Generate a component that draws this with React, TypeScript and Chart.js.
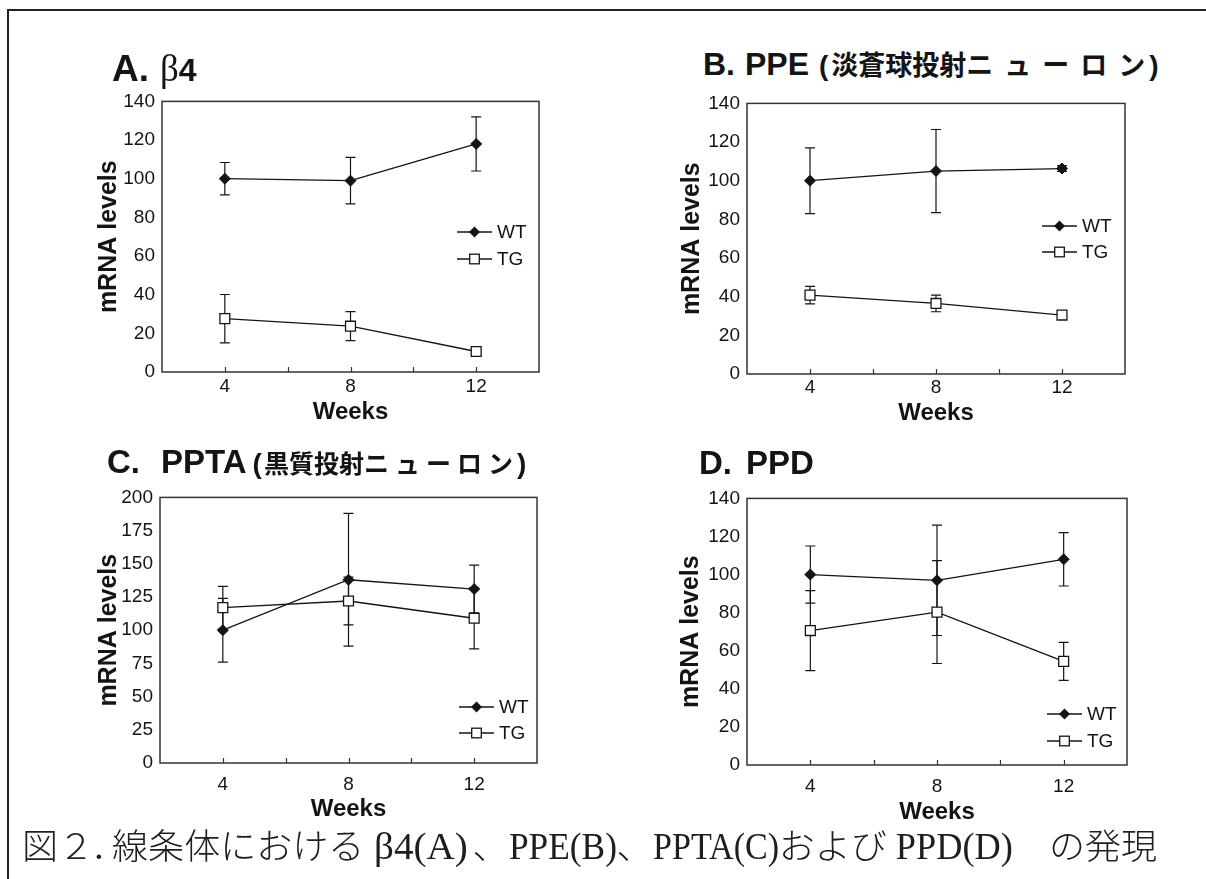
import React, { useEffect, useLayoutEffect, useRef } from 'react';
import { Chart, registerables } from 'chart.js';

Chart.register(...registerables);

// ---------------- data ----------------
const weeks = [4, 8, 12];
const xLabelWeeks = [4, 8, 12];
const xMinorTicks = [4, 6, 8, 10, 12];
const seriesNames = ['WT', 'TG'];

const aWT = [100, 99, 118];
const aWTerr = [8.4, 12, 14];
const aTG = [27.6, 23.7, 10.6];
const aTGerr = [12.5, 7.5, 2];

const bWT = [100, 105, 106.3];
const bWTerr = [17, 21.5, 1.5];
const bTG = [40.8, 36.5, 30.5];
const bTGerr = [4.5, 4.3, 0];

const cWT = [100, 138, 131];
const cWTerr = [24, 50, 18];
const cTG = [117, 122, 109];
const cTGerr = [16, 18, 23];

const dWT = [100, 97, 108];
const dWTerr = [15, 29, 14];
const dTG = [70.6, 80.3, 54.4];
const dTGerr = [21, 27, 10];

const yMaxAB = 140;
const yStepAB = 20;
const yMaxC = 200;
const yStepC = 25;

// ---------------- style ----------------
const INK = '#141414';
const FRAME = '#333333';
const SANS = '"Liberation Sans", Arial, Helvetica, sans-serif';
const SERIF = '"Liberation Serif", "DejaVu Serif", serif';
const CJK = '"Noto Sans CJK JP", "Noto Sans CJK SC", sans-serif';

type PanelCfg = {
  L: number; T: number; R: number; B: number;
  wt: number[]; wtErr: number[]; tg: number[]; tgErr: number[];
  yMax: number; yStep: number;
  xLabelPad: number; weeksPad: number; yTitlePad: number;
  legX: number; legY: number[];
};

const panels: PanelCfg[] = [
  { L: 162, T: 95, R: 539, B: 372, wt: aWT, wtErr: aWTerr, tg: aTG, tgErr: aTGerr,
    yMax: yMaxAB, yStep: yStepAB, xLabelPad: 3.6, weeksPad: 15.6, yTitlePad: 12,
    legX: 457, legY: [232, 259] },
  { L: 747, T: 97, R: 1125, B: 374, wt: bWT, wtErr: bWTerr, tg: bTG, tgErr: bTGerr,
    yMax: yMaxAB, yStep: yStepAB, xLabelPad: 2.6, weeksPad: 16.6, yTitlePad: 10,
    legX: 1042, legY: [226, 252] },
  { L: 160, T: 491, R: 537, B: 763, wt: cWT, wtErr: cWTerr, tg: cTG, tgErr: cTGerr,
    yMax: yMaxC, yStep: yStepC, xLabelPad: 10.6, weeksPad: 9.6, yTitlePad: 14,
    legX: 459, legY: [707, 733] },
  { L: 747, T: 492, R: 1127, B: 765, wt: dWT, wtErr: dWTerr, tg: dTG, tgErr: dTGerr,
    yMax: yMaxAB, yStep: yStepAB, xLabelPad: 10.6, weeksPad: 8.6, yTitlePad: 9,
    legX: 1047, legY: [714, 741] },
];

const PAD_L = 80;
const PAD_T = 12;
const PAD_R = 20;
const X_BOX = 70;

function decor(p: PanelCfg, offX: number, offY: number) {
  return {
    id: 'decor',
    beforeDatasetsDraw(chart: any) {
      const { ctx, chartArea: a, scales } = chart;
      const x = scales.x, y = scales.y;
      ctx.save();
      ctx.strokeStyle = FRAME;
      ctx.lineWidth = 1.5;
      ctx.strokeRect(a.left, a.top, a.right - a.left, a.bottom - a.top);
      ctx.lineWidth = 1.2;
      ctx.beginPath();
      xMinorTicks.forEach((v) => {
        const px = Math.round(x.getPixelForValue(v)) + 0.5;
        ctx.moveTo(px, a.bottom);
        ctx.lineTo(px, a.bottom - 5);
      });
      ctx.stroke();
      // error bars
      ctx.strokeStyle = INK;
      ctx.lineWidth = 1.2;
      const cap = 5;
      chart.data.datasets.forEach((ds: any) => {
        const errs: number[] = ds.errors || [];
        ds.data.forEach((pt: any, j: number) => {
          const e = errs[j];
          if (!e) return;
          const px = x.getPixelForValue(pt.x);
          const t = y.getPixelForValue(pt.y + e);
          const b = y.getPixelForValue(pt.y - e);
          ctx.beginPath();
          ctx.moveTo(px, t); ctx.lineTo(px, b);
          ctx.moveTo(px - cap, t); ctx.lineTo(px + cap, t);
          ctx.moveTo(px - cap, b); ctx.lineTo(px + cap, b);
          ctx.stroke();
        });
      });
      ctx.restore();
    },
    afterDatasetsDraw(chart: any) {
      const { ctx } = chart;
      ctx.save();
      seriesNames.forEach((name, i) => {
        const lx = p.legX - offX;
        const ly = p.legY[i] - offY;
        ctx.strokeStyle = INK;
        ctx.lineWidth = 1.3;
        ctx.beginPath();
        ctx.moveTo(lx, ly); ctx.lineTo(lx + 35, ly);
        ctx.stroke();
        const mx = lx + 17.5;
        if (i === 0) {
          const r = 5.5;
          ctx.fillStyle = INK;
          ctx.beginPath();
          ctx.moveTo(mx, ly - r); ctx.lineTo(mx + r, ly); ctx.lineTo(mx, ly + r); ctx.lineTo(mx - r, ly);
          ctx.closePath();
          ctx.fill();
        } else {
          const s = 4.8;
          ctx.fillStyle = '#ffffff';
          ctx.fillRect(mx - s, ly - s, 2 * s, 2 * s);
          ctx.strokeRect(mx - s, ly - s, 2 * s, 2 * s);
        }
        ctx.fillStyle = INK;
        ctx.font = `19px ${SANS}`;
        ctx.textBaseline = 'middle';
        ctx.textAlign = 'left';
        ctx.fillText(name, lx + 40, ly + 1);
      });
      ctx.restore();
    },
  };
}

function Panel({ p }: { p: PanelCfg }) {
  const ref = useRef<HTMLCanvasElement>(null);
  const left = p.L - PAD_L;
  const top = p.T - PAD_T;
  const w = p.R - p.L + PAD_L + PAD_R;
  const h = p.B - p.T + PAD_T + X_BOX;
  useEffect(() => {
    if (!ref.current) return;
    const tickFont = { family: SANS, size: 19 };
    const chart = new Chart(ref.current, {
      type: 'line',
      data: {
        datasets: [
          {
            label: seriesNames[0],
            data: weeks.map((x, i) => ({ x, y: p.wt[i] })),
            errors: p.wtErr,
            borderColor: INK, borderWidth: 1.3, tension: 0, fill: false,
            pointStyle: 'rectRot', pointRadius: 5.5,
            pointBackgroundColor: INK, pointBorderColor: INK, pointBorderWidth: 1,
          } as any,
          {
            label: seriesNames[1],
            data: weeks.map((x, i) => ({ x, y: p.tg[i] })),
            errors: p.tgErr,
            borderColor: INK, borderWidth: 1.3, tension: 0, fill: false,
            pointStyle: 'rect', pointRadius: 7,
            pointBackgroundColor: '#ffffff', pointBorderColor: INK, pointBorderWidth: 1.3,
          } as any,
        ],
      },
      options: {
        animation: false,
        responsive: false,
        maintainAspectRatio: false,
        devicePixelRatio: 1,
        events: [],
        layout: { padding: { left: 0, top: PAD_T, right: PAD_R, bottom: 0 } },
        plugins: { legend: { display: false }, tooltip: { enabled: false }, title: { display: false } },
        scales: {
          x: {
            type: 'linear', min: 2, max: 14,
            afterFit: (s: any) => { s.height = X_BOX; },
            grid: { display: false, drawTicks: false },
            border: { display: false },
            ticks: {
              stepSize: 2, autoSkip: false, maxRotation: 0, minRotation: 0,
              padding: p.xLabelPad, font: tickFont, color: INK,
              callback: (v: any) => (xLabelWeeks.includes(Number(v)) ? String(v) : ''),
            },
            title: {
              display: true, text: 'Weeks', color: INK,
              font: { family: SANS, size: 24, weight: 'bold' },
              padding: { top: 0, bottom: p.weeksPad },
            },
          },
          y: {
            min: 0, max: p.yMax,
            afterFit: (s: any) => { s.width = PAD_L; },
            grid: { display: false, drawTicks: false },
            border: { display: false },
            ticks: { stepSize: p.yStep, padding: 7, font: tickFont, color: INK },
            title: {
              display: true, text: 'mRNA levels', color: INK,
              font: { family: SANS, size: 25, weight: 'bold' },
              padding: { top: p.yTitlePad, bottom: 0 },
            },
          },
        },
      } as any,
      plugins: [decor(p, left, top) as any],
    });
    return () => chart.destroy();
  }, []);
  return (
    <canvas
      ref={ref}
      width={w}
      height={h}
      style={{ position: 'absolute', left, top, width: w, height: h }}
    />
  );
}

function Title({ x, baseline, size, children }: { x: number; baseline: number; size: number; children: any }) {
  return (
    <div
      style={{
        position: 'absolute', left: x, top: baseline - 0.8465 * size,
        fontSize: size, lineHeight: `${size}px`, fontFamily: SANS, fontWeight: 'bold',
        whiteSpace: 'nowrap', color: INK,
      }}
    >
      {children}
    </div>
  );
}

const lh0 = { lineHeight: 0 } as const;

const CAP_SIZE = 35;
const HALF = 17.5;

function Caption() {
  const ref = useRef<HTMLSpanElement>(null);
  useLayoutEffect(() => {
    const el = ref.current;
    if (!el) return;
    el.querySelectorAll<HTMLElement>('[data-n]').forEach((s) => {
      const target = Number(s.dataset.n) * HALF;
      const natural = s.getBoundingClientRect().width;
      if (natural > 0) {
        const k = Math.min(1, target / natural);
        s.style.transform = `scaleX(${k})`;
        s.style.marginRight = `${target - natural}px`;
      }
    });
    const wNow = el.getBoundingClientRect().width;
    if (wNow > 0) el.style.transform = `scaleX(${1135 / wNow})`;
  }, []);
  const latin = (t: string, n: number) => (
    <span
      data-n={n}
      style={{
        display: 'inline-block', transformOrigin: '0 0', fontFamily: SERIF,
        fontSize: 38, whiteSpace: 'pre', verticalAlign: 'baseline',
      }}
    >
      {t}
    </span>
  );
  return (
    <div style={{ position: 'absolute', left: 22, top: 826, whiteSpace: 'nowrap' }}>
      <span
        ref={ref}
        style={{
          display: 'inline-block', transformOrigin: '0 0',
          fontFamily: CJK, fontSize: CAP_SIZE, lineHeight: '36px',
          fontWeight: 300, color: '#1e1e1e',
        }}
      >
        図２{latin('.', 1)}線条体における{latin(' β4(A)', 6)}、{latin('PPE(B)', 6)}、
        {latin('PPTA(C)', 7)}および{latin(' PPD(D)', 7)}　の発現
      </span>
    </div>
  );
}

export default function App() {
  return (
    <div
      style={{
        position: 'absolute', left: 0, top: 0, width: 1206, height: 879,
        overflow: 'hidden', background: '#ffffff',
      }}
    >
      <div
        style={{
          position: 'absolute', left: 7, top: 9, width: 1300, height: 1000,
          borderLeft: '2px solid #222', borderTop: '2px solid #222',
        }}
      />
      {panels.map((p, i) => <Panel key={i} p={p} />)}

      <Title x={112} baseline={81} size={37}>
        A.
        <span style={{ ...lh0, fontFamily: SERIF, fontWeight: 'normal', fontSize: 37, marginLeft: 11 }}>β</span>
        <span style={{ ...lh0, fontSize: 32 }}>4</span>
      </Title>

      <Title x={703} baseline={75} size={32}>
        B.
        <span style={{ ...lh0, marginLeft: 10 }}>PPE</span>
        <span style={{ ...lh0, marginLeft: 10, fontSize: 28 }}>(</span>
        <span style={{ ...lh0, fontFamily: CJK, fontSize: 27, marginLeft: 3 }}>淡蒼球投射</span>
        <span style={{ ...lh0, fontFamily: CJK, fontSize: 27, letterSpacing: 11 }}>ニューロ</span>
        <span style={{ ...lh0, fontFamily: CJK, fontSize: 27, marginRight: 4 }}>ン</span>
        <span style={{ ...lh0, fontSize: 28 }}>)</span>
      </Title>

      <Title x={107} baseline={473} size={33}>
        C.
        <span style={{ ...lh0, marginLeft: 21 }}>PPTA</span>
        <span style={{ ...lh0, marginLeft: 6, fontSize: 28 }}>(</span>
        <span style={{ ...lh0, fontFamily: CJK, fontSize: 25, marginLeft: 2 }}>黒質投射</span>
        <span style={{ ...lh0, fontFamily: CJK, fontSize: 25, letterSpacing: 6 }}>ニューロ</span>
        <span style={{ ...lh0, fontFamily: CJK, fontSize: 25, marginRight: 4 }}>ン</span>
        <span style={{ ...lh0, fontSize: 28 }}>)</span>
      </Title>

      <Title x={699} baseline={474} size={33}>
        D.
        <span style={{ ...lh0, marginLeft: 14 }}>PPD</span>
      </Title>

      <Caption />
    </div>
  );
}
